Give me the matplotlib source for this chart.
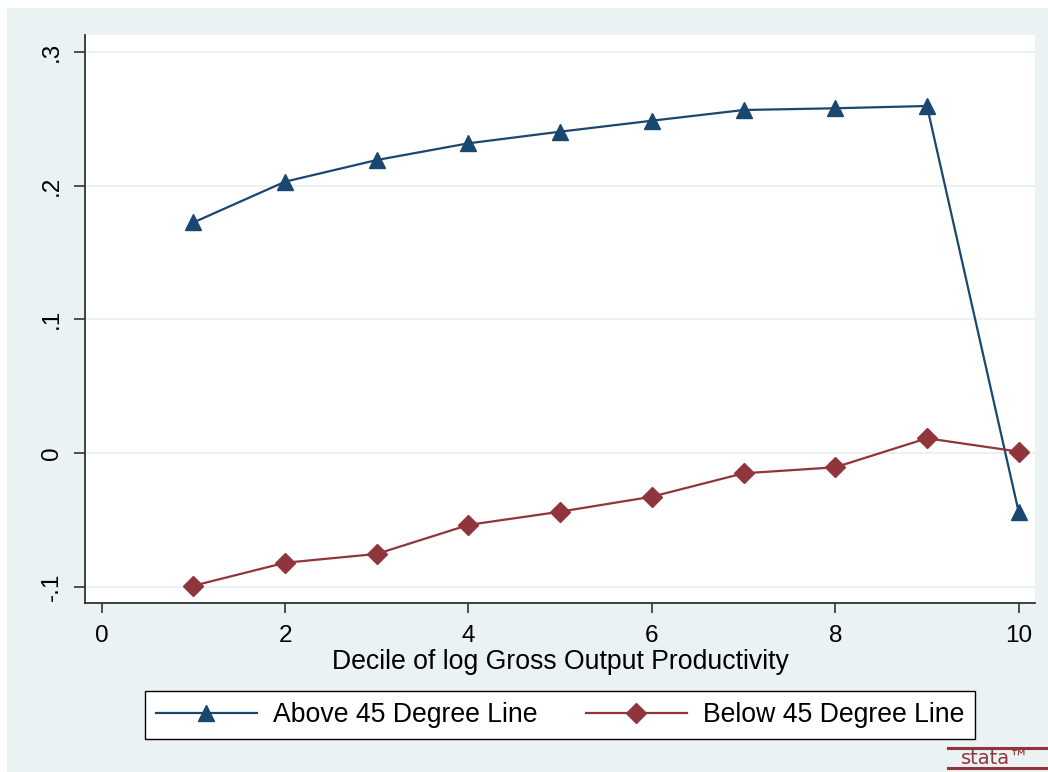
import numpy as np
import matplotlib
matplotlib.use("Agg")
import matplotlib.pyplot as plt
from matplotlib.patches import Rectangle
from matplotlib.lines import Line2D

plt.rcParams['font.family'] = ['Liberation Sans', 'DejaVu Sans']

decile = [1, 2, 3, 4, 5, 6, 7, 8, 9, 10]
above = [0.1724, 0.2029, 0.2191, 0.2316, 0.2403, 0.2485, 0.2565, 0.2578, 0.2595, -0.0441]
below = [-0.0993, -0.0821, -0.0755, -0.0538, -0.0439, -0.0327, -0.0152, -0.0107, 0.0110, 0.0010]

xticks = [0, 2, 4, 6, 8, 10]
yticks = [-0.1, 0, 0.1, 0.2, 0.3]
ytick_labels = ['-.1', '0', '.1', '.2', '.3']

navy = '#1a476f'
maroon = '#90353b'
bg = '#eaf2f3'

W, H = 1048, 772
fig = plt.figure(figsize=(W / 100, H / 100), dpi=100, facecolor='white')
# stata-style outer region
fig.patches.append(Rectangle((7 / W, 0), 1 - 7 / W, 1 - 8 / H,
                             transform=fig.transFigure, facecolor=bg,
                             edgecolor='none', zorder=-10))

ax = fig.add_axes([85 / W, 1 - 603 / H, (1035 - 85) / W, (603 - 35) / H])
ax.set_facecolor('white')

ax.plot(decile, above, color=navy, lw=1.6, marker='^', ms=12,
        label='Above 45 Degree Line', zorder=3)
ax.plot(decile, below, color=maroon, lw=1.6, marker='D', ms=10,
        label='Below 45 Degree Line', zorder=3)

ax.set_xlim(-0.182, 10.178)
ax.set_ylim(-0.1122, 0.3126)
ax.set_xticks(xticks)
ax.set_yticks(yticks)
ax.set_yticklabels(ytick_labels, rotation=90, va='center')
ax.grid(axis='y', color=bg, lw=1.4, zorder=0)
ax.set_axisbelow(True)

for s in ['top', 'right']:
    ax.spines[s].set_visible(False)
for s in ['left', 'bottom']:
    ax.spines[s].set_color('#333333')
    ax.spines[s].set_linewidth(1.3)

ax.tick_params(axis='both', labelsize=17.5, color='#333333', width=1.2)
ax.tick_params(axis='y', length=8, pad=8)
ax.tick_params(axis='x', length=7, pad=9)

ax.set_xlabel('Decile of log Gross Output Productivity', fontsize=19.2, labelpad=1)

leg = fig.legend(loc='center', bbox_to_anchor=(560 / W, 1 - 715 / H),
                 ncol=2, fontsize=19.2, frameon=True, fancybox=False,
                 edgecolor='black', framealpha=1, handlelength=3.8,
                 handletextpad=0.6, columnspacing=1.8, borderpad=0.4)
leg.get_frame().set_linewidth(1.0)

# logo in the corner
fig.text(995 / W, 1 - 758 / H, 'stata\u2122', color=maroon, fontsize=14,
         ha='center', va='center', family='DejaVu Sans')
for yy in [748, 768]:
    fig.lines.append(Line2D([948 / W, 1], [1 - yy / H, 1 - yy / H],
                            transform=fig.transFigure, color=maroon, lw=2.2))

fig.savefig('out.png', dpi=100, facecolor=fig.get_facecolor())
